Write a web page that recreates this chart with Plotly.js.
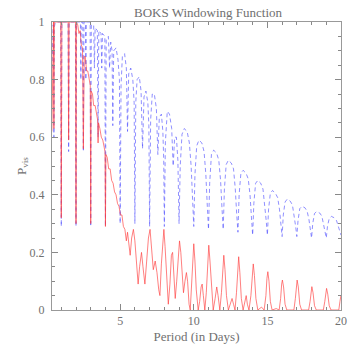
<!DOCTYPE html>
<html>
<head>
<meta charset="utf-8">
<script src="https://cdn.plot.ly/plotly-3.0.1.min.js"></script>
<style>html,body{margin:0;padding:0;background:#fff;}</style>
</head>
<body>
<div id="chart" style="width:356px;height:344px;"></div>
<script>
// Red (solid) curve: [period in days, P_vis]
const redPoints = [
[0.36,0.62],[0.40,0.84],[0.44,0.97],[0.47,1.0],[0.50,0.63],[0.53,1.0],
[0.96,1.0],[1.0,0.32],[1.04,1.0],
[1.47,1.0],[1.5,0.59],[1.53,1.0],
[1.97,1.0],[2.0,0.30],[2.03,1.0],
[2.12,0.99],[2.2,0.96],[2.28,0.97],[2.36,0.92],[2.44,0.91],[2.5,0.56],[2.56,0.88],[2.63,0.88],[2.72,0.83],[2.8,0.83],[2.9,0.79],[2.97,0.78],[3.0,0.30],[3.03,0.76],
[3.12,0.75],[3.2,0.71],[3.3,0.71],[3.4,0.67],[3.47,0.66],[3.5,0.58],[3.53,0.65],[3.62,0.63],[3.72,0.6],[3.82,0.59],[3.92,0.56],[3.97,0.55],[4.0,0.29],[4.03,0.54],
[4.12,0.53],[4.22,0.49],[4.32,0.49],[4.42,0.45],[4.52,0.44],[4.62,0.41],[4.72,0.4],[4.82,0.37],[4.92,0.36],[5.02,0.33],[5.12,0.33],[5.22,0.29],[5.32,0.28],[5.42,0.24],
[5.5,0.27],[5.6,0.21],[5.68,0.19],[5.78,0.25],[5.9,0.28],[6.0,0.24],[6.1,0.16],[6.22,0.09],[6.32,0.15],[6.45,0.2],[6.55,0.15],[6.68,0.09],[6.8,0.17],[6.92,0.25],
[7.03,0.28],[7.12,0.22],[7.25,0.14],[7.38,0.17],[7.5,0.13],[7.62,0.07],[7.7,0.05],[7.8,0.16],[7.9,0.26],[7.97,0.28],[8.05,0.22],[8.15,0.12],[8.27,0.02],[8.38,0.09],
[8.48,0.19],[8.56,0.2],[8.64,0.13],[8.74,0.04],[8.84,0.1],[8.93,0.19],[9.03,0.24],[9.12,0.2],[9.22,0.1],[9.3,0.06],[9.4,0.1],[9.5,0.13],[9.58,0.1],[9.68,0.02],
[9.76,0.0],[9.84,0.07],[9.92,0.17],[10.0,0.23],[10.08,0.17],[10.17,0.07],[10.3,0.0],[10.4,0.03],[10.5,0.08],[10.57,0.09],[10.65,0.05],[10.75,0.0],[10.85,0.06],
[10.94,0.17],[11.02,0.225],[11.1,0.17],[11.2,0.07],[11.32,0.0],[11.45,0.04],[11.56,0.08],[11.65,0.05],[11.77,0.0],[11.88,0.06],[11.96,0.15],[12.04,0.19],[12.12,0.14],
[12.22,0.05],[12.35,0.0],[12.5,0.02],[12.6,0.04],[12.7,0.02],[12.8,0.0],[12.9,0.06],[12.98,0.15],[13.05,0.185],[13.13,0.13],[13.23,0.04],[13.35,0.0],[13.48,0.03],
[13.56,0.05],[13.64,0.02],[13.75,0.0],[13.88,0.05],[13.97,0.13],[14.04,0.16],[14.12,0.12],[14.22,0.04],[14.35,0.0],[14.6,0.01],[14.78,0.0],[14.9,0.05],[14.97,0.11],
[15.03,0.133],[15.11,0.1],[15.2,0.03],[15.32,0.0],[15.6,0.005],[15.8,0.0],[15.9,0.04],[15.97,0.09],[16.02,0.104],[16.1,0.08],[16.2,0.02],[16.32,0.0],[16.8,0.0],
[16.9,0.04],[16.97,0.09],[17.02,0.104],[17.1,0.08],[17.2,0.02],[17.32,0.0],[17.8,0.0],[17.9,0.03],[17.97,0.07],[18.02,0.081],[18.1,0.06],[18.2,0.015],[18.32,0.0],
[18.8,0.0],[18.9,0.03],[18.97,0.065],[19.02,0.075],[19.1,0.055],[19.2,0.015],[19.32,0.0],[19.85,0.0],[19.93,0.03],[20.0,0.052]
];

// Blue (dashed) curve: [period in days, P_vis]
const bluePoints = [
[0.37,0.84],[0.41,0.94],[0.45,0.99],[0.48,0.97],[0.5,0.6],[0.52,0.98],[0.6,1.0],
[0.96,1.0],[1.0,0.29],[1.04,1.0],
[1.46,1.0],[1.5,0.55],[1.54,1.0],
[1.96,1.0],[2.0,0.29],[2.04,1.0],
[2.3,1.0],[2.33,0.8],[2.36,1.0],[2.46,1.0],[2.5,0.55],[2.54,1.0],[2.64,1.0],[2.67,0.8],[2.7,1.0],[2.96,1.0],[3.0,0.29],[3.04,0.99],
[3.2,0.99],[3.25,0.84],[3.3,0.98],[3.45,0.97],[3.5,0.6],[3.55,0.97],[3.7,0.96],[3.75,0.84],[3.8,0.96],[3.96,0.95],[4.0,0.29],[4.05,0.94],
[4.2,0.95],[4.28,0.84],[4.36,0.93],[4.45,0.9],[4.5,0.64],[4.56,0.9],[4.72,0.91],[4.85,0.87],[4.95,0.8],[5.0,0.3],
[5.06,0.78],[5.15,0.88],[5.3,0.89],[5.42,0.84],[5.5,0.62],[5.58,0.82],[5.72,0.84],[5.86,0.8],[5.95,0.72],[6.0,0.3],
[6.06,0.72],[6.15,0.8],[6.3,0.81],[6.42,0.76],[6.52,0.56],[6.62,0.74],[6.75,0.76],[6.88,0.72],[6.95,0.64],[7.0,0.29],
[7.07,0.66],[7.18,0.75],[7.32,0.75],[7.46,0.7],[7.56,0.54],[7.66,0.67],[7.8,0.68],[7.9,0.62],[7.96,0.52],[8.0,0.29],
[8.07,0.58],[8.2,0.69],[8.35,0.68],[8.5,0.63],[8.6,0.5],[8.7,0.6],[8.82,0.6],[8.92,0.52],[9.0,0.3],
[9.08,0.5],[9.2,0.61],[9.35,0.63],[9.55,0.62],[9.7,0.58],[9.82,0.5],[9.92,0.38],[10.0,0.29],
[10.08,0.47],[10.2,0.57],[10.35,0.59],[10.55,0.58],[10.7,0.55],[10.82,0.47],[10.92,0.36],[11.0,0.28],
[11.08,0.44],[11.2,0.54],[11.35,0.555],[11.55,0.545],[11.7,0.52],[11.82,0.45],[11.92,0.35],[12.0,0.28],
[12.08,0.42],[12.2,0.505],[12.35,0.52],[12.55,0.51],[12.7,0.49],[12.82,0.42],[12.92,0.33],[13.0,0.27],
[13.08,0.4],[13.2,0.475],[13.35,0.485],[13.55,0.475],[13.7,0.455],[13.82,0.4],[13.92,0.32],[14.0,0.26],
[14.08,0.37],[14.2,0.44],[14.35,0.45],[14.55,0.44],[14.7,0.42],[14.82,0.37],[14.92,0.31],[15.0,0.26],
[15.08,0.35],[15.2,0.405],[15.35,0.415],[15.55,0.405],[15.7,0.39],[15.82,0.35],[15.92,0.3],[16.0,0.255],
[16.08,0.33],[16.2,0.375],[16.35,0.385],[16.55,0.378],[16.7,0.365],[16.82,0.33],[16.92,0.29],[17.0,0.255],
[17.08,0.31],[17.2,0.352],[17.35,0.36],[17.55,0.355],[17.7,0.343],[17.82,0.315],[17.92,0.28],[18.0,0.25],
[18.08,0.3],[18.2,0.335],[18.35,0.342],[18.55,0.337],[18.7,0.326],[18.82,0.3],[18.92,0.27],[19.0,0.25],
[19.08,0.29],[19.2,0.318],[19.35,0.325],[19.55,0.32],[19.7,0.31],[19.82,0.29],[19.92,0.27],[20.0,0.26]
];

const chartTitle = 'BOKS Windowing Function';
const xTitle = 'Period (in Days)';
const yTitle = 'P<sub>vis</sub>';

const serif = 'Liberation Serif, DejaVu Serif, serif';
const grey = '#707070';

const traces = [
  {
    x: bluePoints.map(p => p[0]), y: bluePoints.map(p => p[1]),
    type: 'scatter', mode: 'lines',
    line: {color: 'rgba(70,70,255,0.6)', width: 1, dash: '4px,3px'},
    hoverinfo: 'skip'
  },
  {
    x: redPoints.map(p => p[0]), y: redPoints.map(p => p[1]),
    type: 'scatter', mode: 'lines',
    line: {color: 'rgba(255,60,60,0.65)', width: 1},
    hoverinfo: 'skip'
  }
];

const axisCommon = {
  showgrid: false, zeroline: false,
  showline: true, linecolor: '#999', linewidth: 1,
  mirror: 'ticks', ticks: 'inside', ticklen: 6, tickcolor: '#888', tickwidth: 1,
  tickfont: {family: serif, size: 12, color: grey}
};

const layout = {
  width: 356, height: 344,
  margin: {l: 52, r: 15, t: 22, b: 34},
  paper_bgcolor: '#fff', plot_bgcolor: '#fff',
  showlegend: false,
  title: {
    text: chartTitle,
    font: {family: serif, size: 13, color: grey},
    xref: 'paper', x: 0.54, xanchor: 'center',
    yref: 'container', y: 0.965, yanchor: 'middle'
  },
  xaxis: Object.assign({}, axisCommon, {
    range: [0.37, 20], tick0: 0, dtick: 5,
    minor: {tick0: 0, dtick: 1, ticks: 'inside', ticklen: 3, tickcolor: '#888'},
    title: {text: xTitle, font: {family: serif, size: 13, color: grey}, standoff: 4}
  }),
  yaxis: Object.assign({}, axisCommon, {
    range: [0, 1], tick0: 0, dtick: 0.2,
    minor: {tick0: 0, dtick: 0.05, ticks: 'inside', ticklen: 3, tickcolor: '#888'},
    ticklabelstandoff: 4,
    title: {text: yTitle, font: {family: serif, size: 13, color: grey}, standoff: 0}
  })
};

Plotly.newPlot('chart', traces, layout, {staticPlot: true, displayModeBar: false});
</script>
</body>
</html>
